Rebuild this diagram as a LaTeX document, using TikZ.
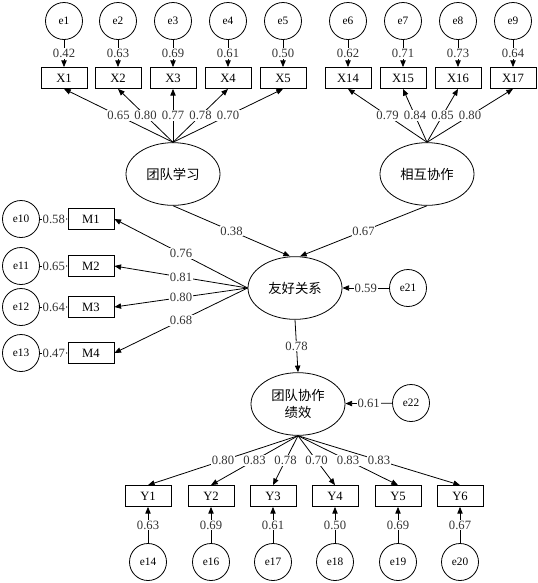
\documentclass[tikz,border=0pt]{standalone}
\usepackage{fontspec}
\setmainfont{Liberation Serif}
\newfontfamily\cjk{Noto Sans CJK SC}
\usetikzlibrary{arrows.meta,positioning,shapes.geometric}
\tikzset{
  wire/.style={line width=0.6pt, -{Triangle[length=5pt,width=4pt]}},
  obs/.style={draw, line width=0.6pt, minimum width=34.5pt, minimum height=15.75pt, inner sep=1pt, font=\fontsize{9.5}{10}\selectfont},
  err/.style={draw, circle, line width=0.6pt, minimum size=27.75pt, inner sep=0pt, font=\fontsize{8.5}{9}\selectfont},
  lat/.style={draw, ellipse, line width=0.6pt, minimum width=70.5pt, minimum height=47pt, inner sep=0pt, align=center, font=\cjk\fontsize{10}{12.5}\selectfont},
  coef/.style={fill=white, inner sep=0.6pt, text=black!80, font=\fontsize{9.5}{10}\selectfont}
}
\begin{document}
\begin{tikzpicture}[x=0.75pt,y=-0.75pt]
  \useasboundingbox (0,0) rectangle (538,583);
  % latent variables
  \node[lat] (learn) at (173,174) {团队学习};
  \node[lat] (coop) at (427,174) {相互协作};
  \node[lat] (friend) at (295,288) {友好关系};
  \node[lat] (perf) at (298,404) {团队协作\\绩效};
  % items of learn
  \foreach \n/\x/\ev/\lv in {1/64/0.42/0.65, 2/118/0.63/0.80, 3/173/0.69/0.77, 4/228/0.61/0.78, 5/283/0.50/0.70} {
    \node[obs] (x\n) at (\x,78) {X\n};
    \node[err] (e\n) at (\x,21) {e\n};
    \draw[wire] (e\n) -- node[coef] {\ev} (x\n);
    \draw[wire] (learn.north) -- node[coef] {\lv} (x\n.south);
  }
  % items of coop
  \foreach \e/\n/\x/\ev/\lv in {6/14/348/0.62/0.79, 7/15/403/0.71/0.84, 8/16/458/0.73/0.85, 9/17/513/0.64/0.80} {
    \node[obs] (x\n) at (\x,78) {X\n};
    \node[err] (e\e) at (\x,21) {e\e};
    \draw[wire] (e\e) -- node[coef] {\ev} (x\n);
    \draw[wire] (coop.north) -- node[coef] {\lv} (x\n.south);
  }
  % items of friend
  \foreach \n/\e/\y/\ev/\lv in {1/10/219/0.58/0.76, 2/11/266/0.65/0.81, 3/12/307/0.64/0.80, 4/13/353/0.47/0.68} {
    \node[obs] (m\n) at (91,\y) {M\n};
    \node[err] (e\e) at (21,\y) {e\e};
    \draw[wire] (e\e) -- node[coef] {\ev} (m\n);
    \draw[wire] (friend.west) -- node[coef] {\lv} (m\n.east);
  }
  % items of perf
  \foreach \n/\e/\x/\ev/\lv in {1/14/148/0.63/0.80, 2/16/211/0.69/0.83, 3/17/273/0.61/0.78, 4/18/335/0.50/0.70, 5/19/398/0.69/0.83, 6/20/460/0.67/0.83} {
    \node[obs] (y\n) at (\x,496) {Y\n};
    \node[err] (e\e) at (\x,562) {e\e};
    \draw[wire] (e\e) -- node[coef] {\ev} (y\n);
    \draw[wire] (perf.south) -- node[coef] {\lv} (y\n.north);
  }
  % structural part
  \node[err] (e21) at (408,288) {e21};
  \node[err] (e22) at (411,403) {e22};
  \draw[wire] (e21) -- node[coef] {0.59} (friend);
  \draw[wire] (e22) -- node[coef] {0.61} (perf);
  \draw[wire] (learn.south) -- node[coef] {0.38} ([xshift=-3.75pt]friend.north);
  \draw[wire] (coop.south) -- node[coef] {0.67} ([xshift=3.75pt]friend.north);
  \draw[wire] (friend.south) -- node[coef] {0.78} (perf.north);
\end{tikzpicture}
\end{document}
